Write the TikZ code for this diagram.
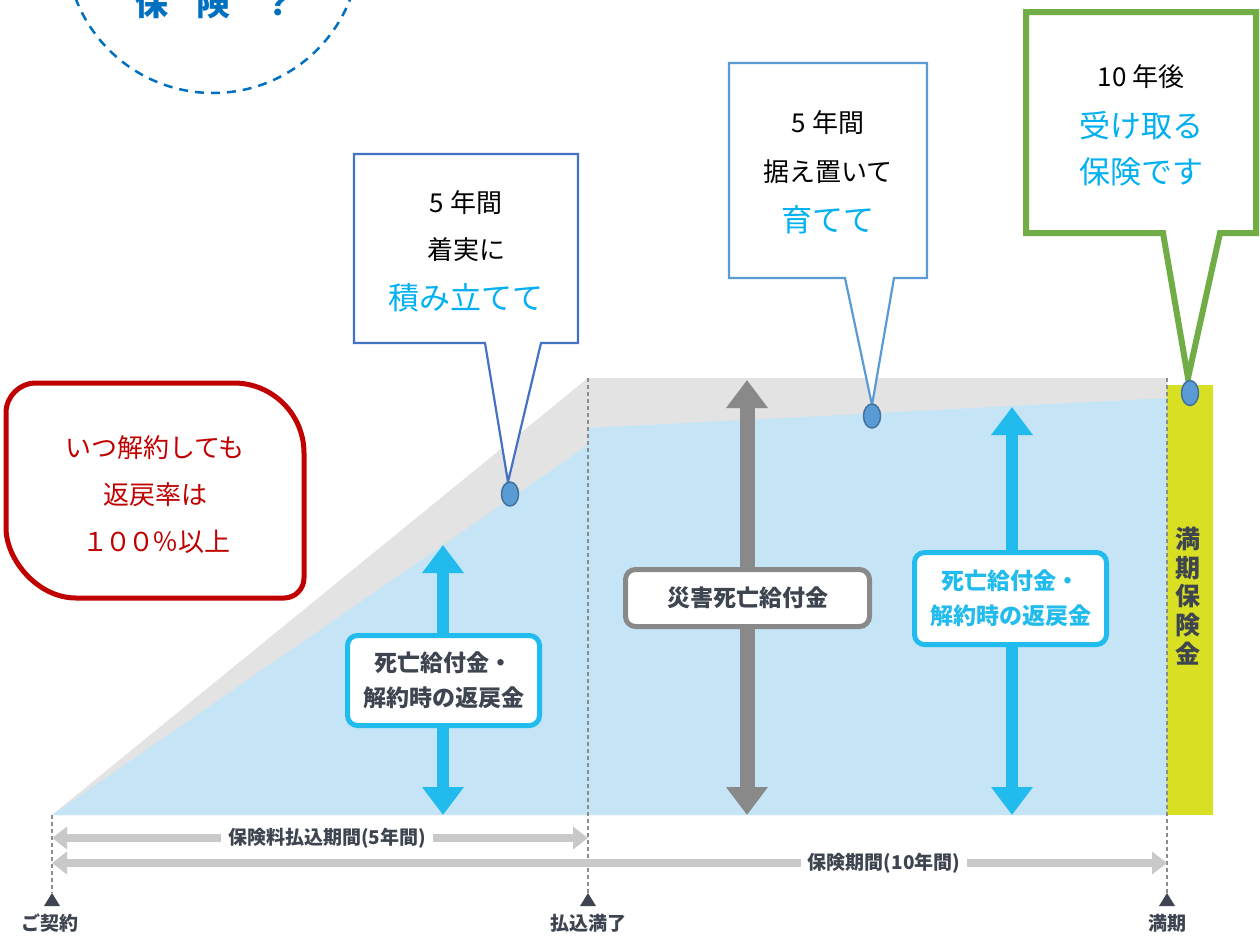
\documentclass[tikz,border=0pt]{standalone}
\usepackage{fontspec}
\setmainfont{Noto Sans CJK JP}
\usetikzlibrary{arrows.meta}
\definecolor{circblue}{HTML}{0070C0}
\definecolor{cyantxt}{HTML}{00B0F0}
\definecolor{boxone}{HTML}{4472C4}
\definecolor{boxtwo}{HTML}{5B9BD5}
\definecolor{boxgreen}{HTML}{70AD47}
\definecolor{boxred}{HTML}{C00000}
\definecolor{areagray}{HTML}{E3E3E3}
\definecolor{areablue}{HTML}{C5E5F7}
\definecolor{yellowbar}{HTML}{D9DF22}
\definecolor{arrowcyan}{HTML}{22BBEE}
\definecolor{arrowgray}{HTML}{898989}
\definecolor{lightarrow}{HTML}{C9C9C9}
\definecolor{darktext}{HTML}{3E4550}
\definecolor{dashgray}{HTML}{8C8C8C}
\definecolor{dotfill}{HTML}{5B9BD5}
\definecolor{dotdraw}{HTML}{41719C}
\tikzset{
  blacktxt/.style={font=\fontsize{26}{30}\selectfont, text=black, inner sep=0pt},
  cyanline/.style={font=\fontsize{31}{36}\selectfont, text=cyantxt, inner sep=0pt},
  redtxt/.style={font=\fontsize{26}{30}\selectfont, text=boxred, inner sep=0pt},
  markdot/.style={draw=dotdraw, fill=dotfill, line width=1.5pt},
  vbar/.style={line width=12pt, {Triangle[length=28pt,width=40pt]}-{Triangle[length=28pt,width=40pt]}},
  labbox/.style={fill=white, rounded corners=10pt, line width=5pt, inner sep=0pt, align=center, font=\bfseries\fontsize{23}{35}\selectfont},
  hbar/.style={line width=8pt, draw=lightarrow, {Triangle[length=15pt,width=22pt]}-{Triangle[length=15pt,width=22pt]}},
  hlabel/.style={fill=white, text=darktext, inner xsep=7pt, inner ysep=2pt, font=\bfseries\fontsize{19}{22}\selectfont},
  ticklabel/.style={text=darktext, inner sep=0pt, font=\bfseries\fontsize{19}{22}\selectfont},
  dashline/.style={draw=dashgray, line width=1.2pt, dash pattern=on 4pt off 3pt},
  circtxt/.style={text=circblue, inner sep=0pt, font=\bfseries\fontsize{34}{40}\selectfont}
}
\begin{document}
\begin{tikzpicture}[x=1pt,y=-1pt]
\useasboundingbox[fill=white] (0,0) rectangle (1260,938);

% dashed circle at top-left
\begin{scope}
\clip (0,0) rectangle (1260,938);
\draw[circblue, line width=2.5pt, dash pattern=on 9pt off 7pt] (213,-54) circle[radius=147];
\node[circtxt] (c1) at (151,3) {保};
\node[circtxt] (c2) at (213,3) {険};
\node[circtxt] (c3) at (278,3) {？};
\end{scope}

% areas
\fill[areagray] (52,815) -- (588,378) -- (1167,378) -- (1167,815) -- cycle;
\fill[areablue] (52,815) -- (588,445) -- (588,428) -- (1167,398) -- (1167,815) -- cycle;
\fill[yellowbar] (1167,385) rectangle (1213,815);
\node[text=darktext, inner sep=0pt, align=center, font=\bfseries\fontsize{25}{28.6}\selectfont] (mat) at (1188,596) {満\\期\\保\\険\\金};

% time axis coordinates
\coordinate (s0) at (52,815);
\coordinate (s1) at (588,378);
\coordinate (s2) at (1167,378);
\coordinate (e0) at (52,893);
\coordinate (e1) at (588,893);
\coordinate (e2) at (1167,893);
\draw[dashline] (s0) -- (e0);
\draw[dashline] (s1) -- (e1);
\draw[dashline] (s2) -- (e2);
\fill[darktext] (e0) -- ++(8,13) -- ++(-16,0) -- cycle;
\fill[darktext] (e1) -- ++(8,13) -- ++(-16,0) -- cycle;
\fill[darktext] (e2) -- ++(8,13) -- ++(-16,0) -- cycle;
\node[ticklabel] (l0) at (50,923) {ご契約};
\node[ticklabel] (l1) at (588,923) {払込満了};
\node[ticklabel] (l2) at (1167,923) {満期};

% horizontal period arrows
\coordinate (p1a) at (52,838);
\coordinate (p1b) at (588,838);
\coordinate (p2a) at (52,863);
\coordinate (p2b) at (1167,863);
\draw[hbar] (p1a) -- (p1b);
\draw[hbar] (p2a) -- (p2b);
\node[hlabel] (h1) at (327,838) {保険料払込期間(5年間)};
\node[hlabel] (h2) at (884,863) {保険期間(10年間)};

% vertical arrows
\coordinate (a1t) at (443,545);
\coordinate (a1b) at (443,815);
\coordinate (a2t) at (747,380);
\coordinate (a2b) at (747,815);
\coordinate (a3t) at (1012,407);
\coordinate (a3b) at (1012,815);
\draw[vbar, draw=arrowcyan, fill=arrowcyan] (a1t) -- (a1b);
\draw[vbar, line width=15pt, draw=arrowgray, fill=arrowgray] (a2t) -- (a2b);
\draw[vbar, draw=arrowcyan, fill=arrowcyan] (a3t) -- (a3b);
\node[labbox, draw=arrowcyan, text=darktext, minimum width=192pt, minimum height=90pt] (b1) at (443.5,680.5) {死亡給付金・\\解約時の返戻金};
\node[labbox, draw=arrowgray, text=darktext, minimum width=244pt, minimum height=57pt] (b2) at (747.5,598) {災害死亡給付金};
\node[labbox, draw=arrowcyan, text=arrowcyan, minimum width=192pt, minimum height=92pt] (b3) at (1010.5,598.5) {死亡給付金・\\解約時の返戻金};

% red rounded box
\draw[boxred, line width=5pt, fill=white] (36,383) -- (234,383) .. controls (272.6,383) and (304,414.4) .. (304,453) -- (304,578) .. controls (304,589) and (295,598) .. (284,598) -- (76,598) .. controls (37.4,598) and (6,559.4) .. (6,528) -- (6,413) .. controls (6,396.4) and (19.4,383) .. (36,383) -- cycle;
\node[redtxt] (r1) at (155,448) {いつ解約しても};
\node[redtxt] (r2) at (155,495) {返戻率は};
\node[redtxt] (r3) at (156,542) {１\kern-3pt０\kern-3pt０\kern-2pt％以上};

% callout 1
\draw[boxone, line width=2.2pt, fill=white, line join=miter] (354,154) -- (578,154) -- (578,343) -- (541,343) -- (508,482) -- (485,343) -- (354,343) -- cycle;
\node[blacktxt] (k1) at (466,203) {5 年間};
\node[blacktxt] (k2) at (466,250) {着実に};
\node[cyanline] (k3) at (466,298) {積み立てて};
\draw[markdot] (510,494) ellipse[x radius=8.5, y radius=12];

% callout 2
\draw[boxtwo, line width=2.2pt, fill=white, line join=miter] (729,63) -- (927,63) -- (927,278) -- (894,278) -- (872,405) -- (845,278) -- (729,278) -- cycle;
\node[blacktxt] (m1) at (828,123) {5 年間};
\node[blacktxt] (m2) at (828,172) {据え置いて};
\node[cyanline] (m3) at (828,220) {育てて};
\draw[markdot] (872,416) ellipse[x radius=8.5, y radius=12];

% callout 3 (green)
\draw[boxgreen, line width=6pt, fill=white, line join=miter] (1026,12) -- (1256,12) -- (1256,233) -- (1220,233) -- (1188,378) -- (1163,233) -- (1026,233) -- cycle;
\node[blacktxt] (g1) at (1141,77) {10 年後};
\node[cyanline] (g2) at (1141,126) {受け取る};
\node[cyanline] (g3) at (1141,172) {保険です};
\draw[markdot] (1190,393) ellipse[x radius=8.5, y radius=12.5];
\end{tikzpicture}
\end{document}
